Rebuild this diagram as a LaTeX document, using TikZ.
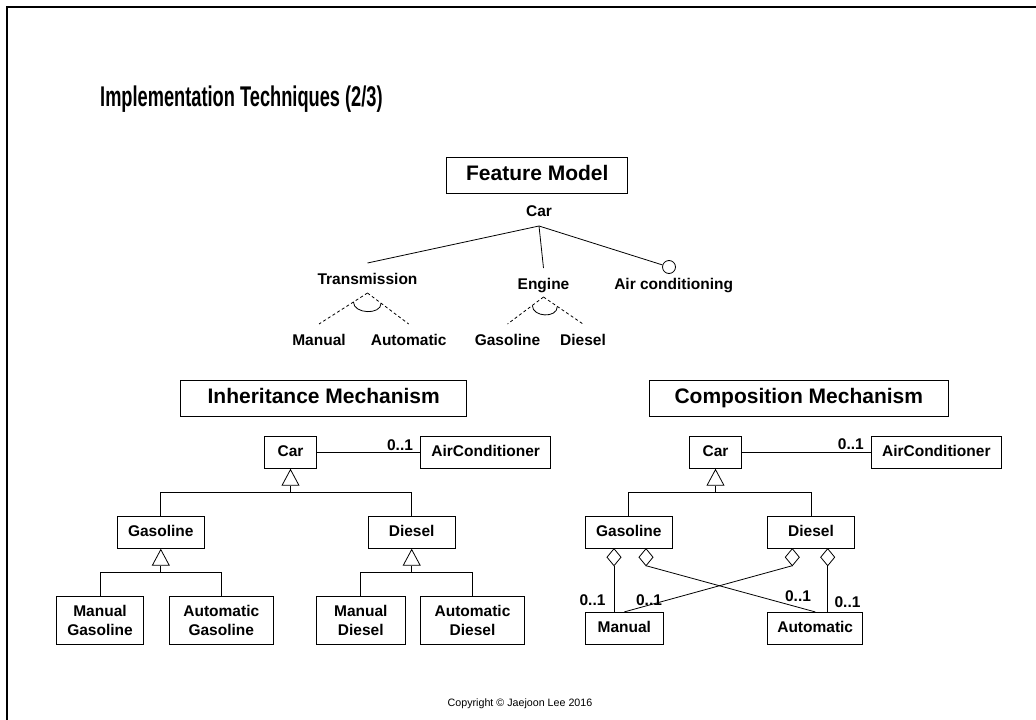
\documentclass[tikz,border=0pt]{standalone}
\usepackage{fontspec}
\setmainfont{Liberation Sans}
\newfontfamily\titlefont[FakeStretch=0.64]{Liberation Sans Bold}
\usetikzlibrary{arrows.meta,calc}
\begin{document}
\begin{tikzpicture}[x=1pt,y=-1pt,
  every node/.style={inner sep=0pt},
  heading/.style={draw, line width=0.8pt, font=\fontsize{21}{24}\selectfont\bfseries, minimum height=36pt, text height=15pt, text depth=4.5pt},
  clsbase/.style={draw, line width=0.8pt, font=\fontsize{15.5}{18.3}\selectfont\bfseries, align=center},
  cls/.style={clsbase, minimum height=31.6pt, text height=11.5pt, text depth=3.3pt},
  cls2/.style={clsbase, minimum height=47.6pt},
  feat/.style={font=\fontsize{15.5}{18}\selectfont\bfseries, anchor=base},
  mult/.style={font=\fontsize{15.5}{18}\selectfont\bfseries},
  conn/.style={line width=0.8pt},
  gen/.style={conn, -{Triangle[open,length=17pt,width=18pt]}},
  opt/.style={conn, dash pattern=on 3pt off 2.5pt},
  agg/.style={conn, fill=white},
]
\useasboundingbox (0,0) rectangle (1036,720);

% page frame and title
\draw[line width=2.2pt] (7,720) -- (7,7) -- (1036,7);
\node[anchor=base west, font=\fontsize{28.5}{32}\selectfont\titlefont] (title) at (100,106) {Implementation Techniques (2/3)};

% ---------------- feature model ----------------
\node[heading, minimum width=181pt] (fmh) at (537.3,175) {Feature Model};
\node[feat] (fcar) at (539,216.7) {Car};
\node[feat] (ftr) at (367.5,284) {Transmission};
\node[feat] (feng) at (543.5,289) {Engine};
\node[feat] (fair) at (673.7,289.3) {Air conditioning};
\node[feat] (fman) at (319,345) {Manual};
\node[feat] (faut) at (408.7,345) {Automatic};
\node[feat] (fgas) at (507.5,345) {Gasoline};
\node[feat] (fdie) at (583,345) {Diesel};
\node[circle, draw, line width=0.8pt, minimum size=13pt] (fopt) at (669,267) {};

\coordinate (carP) at ([yshift=-9.3pt]fcar.base);
\coordinate (trT) at ([yshift=21pt]ftr.base);
\coordinate (enT) at ([yshift=21pt]feng.base);
\draw[conn] (carP) -- (trT);
\draw[conn] (carP) -- (enT);
\draw[conn] (carP) -- (fopt);

% alternative groups
\coordinate (trA) at ([yshift=-9pt]ftr.base);
\coordinate (trL) at ([yshift=21pt]fman.base);
\coordinate (trR) at ([yshift=21pt]faut.base);
\draw[opt] (trA) -- (trL);
\draw[opt] (trA) -- (trR);
\coordinate (tr1) at ($(trA)!0.29!(trL)$);
\coordinate (tr2) at ($(trA)!0.33!(trR)$);
\draw[conn] (tr1) .. controls ([yshift=-12pt]tr1) and ([yshift=-12pt]tr2) .. (tr2);

\coordinate (enA) at ([yshift=-8pt]feng.base);
\coordinate (enL) at ([yshift=21pt]fgas.base);
\coordinate (enR) at ([yshift=21pt]fdie.base);
\draw[opt] (enA) -- (enL);
\draw[opt] (enA) -- (enR);
\coordinate (en1) at ($(enA)!0.31!(enL)$);
\coordinate (en2) at ($(enA)!0.35!(enR)$);
\draw[conn] (en1) .. controls ([yshift=-12pt]en1) and ([yshift=-12pt]en2) .. (en2);

% ---------------- inheritance mechanism ----------------
\node[heading, minimum width=286pt] (ihd) at (323.7,398) {Inheritance Mechanism};
\node[cls, minimum width=52.4pt] (icar) at (290.5,452.5) {Car};
\node[cls, minimum width=130pt] (iair) at (485.7,452.5) {AirConditioner};
\node[cls, minimum width=87pt] (igas) at (160.8,532.5) {Gasoline};
\node[cls, minimum width=86.7pt] (idie) at (411.7,532.5) {Diesel};
\node[cls2, minimum width=86.6pt] (imga) at (100,620.5) {Manual\\Gasoline};
\node[cls2, minimum width=104pt] (iaga) at (221.3,620.5) {Automatic\\Gasoline};
\node[cls2, minimum width=88.3pt] (imdi) at (360.8,620.5) {Manual\\Diesel};
\node[cls2, minimum width=103.6pt] (iadi) at (472.5,620.5) {Automatic\\Diesel};

\draw[conn] (icar) -- (iair);
\node[mult] (im1) at (400,445) {0..1};

\coordinate (iJ) at ([yshift=-24pt]icar.south);
\draw[gen] (iJ) -- (icar.south);
\draw[conn] (igas.north) |- (iJ) -| (idie.north);

\coordinate (igJ) at ([yshift=-24pt]igas.south);
\draw[gen] (igJ) -- (igas.south);
\draw[conn] (imga.north) |- (igJ) -| (iaga.north);

\coordinate (idJ) at ([yshift=-24pt]idie.south);
\draw[gen] (idJ) -- (idie.south);
\draw[conn] (imdi.north) |- (idJ) -| (iadi.north);

% ---------------- composition mechanism ----------------
\node[heading, minimum width=299pt, minimum height=35.3pt] (chd) at (798.8,398.3) {Composition Mechanism};
\node[cls, minimum width=52.4pt] (ccar) at (715.5,452.5) {Car};
\node[cls, minimum width=129.3pt] (cair) at (936.3,452.5) {AirConditioner};
\node[cls, minimum width=87pt] (cgas) at (628.8,532.5) {Gasoline};
\node[cls, minimum width=86.6pt] (cdie) at (811,532.5) {Diesel};
\node[cls, minimum width=78pt, minimum height=32pt] (cman) at (624.3,628.3) {Manual};
\node[cls, minimum width=95pt, minimum height=32pt] (caut) at (815.2,628.3) {Automatic};

\draw[conn] (ccar) -- (cair);
\node[mult] (cm1) at (850.8,444) {0..1};

\coordinate (cJ) at ([yshift=-24pt]ccar.south);
\draw[gen] (cJ) -- (ccar.south);
\draw[conn] (cgas.north) |- (cJ) -| (cdie.north);

% aggregation diamonds on the owners
\coordinate (gd1) at ([xshift=-14.8pt]cgas.south);
\coordinate (gd2) at ([xshift=17.2pt]cgas.south);
\coordinate (dd1) at ([xshift=-18.7pt]cdie.south);
\coordinate (dd2) at ([xshift=16.7pt]cdie.south);
\foreach \d in {gd1,gd2,dd1,dd2}{
  \draw[agg] (\d) -- ++(7,8.5) -- ++(-7,8.5) -- ++(-7,-8.5) -- cycle;
}
\draw[conn] ([yshift=-17pt]gd1) -- ([xshift=-10.3pt]cman.north);
\draw[conn] ([yshift=-17pt]gd2) -- (caut.north);
\draw[conn] ([yshift=-17pt]dd1) -- (cman.north);
\draw[conn] ([yshift=-17pt]dd2) -- ([xshift=12.5pt]caut.north);

\node[mult] (cm2) at (592.5,600) {0..1};
\node[mult] (cm3) at (649,600) {0..1};
\node[mult] (cm4) at (798,596) {0..1};
\node[mult] (cm5) at (847.5,601.7) {0..1};

% footer
\node[font=\fontsize{10.7}{12}\selectfont] (copy) at (520,704) {Copyright © Jaejoon Lee 2016};
\end{tikzpicture}
\end{document}
